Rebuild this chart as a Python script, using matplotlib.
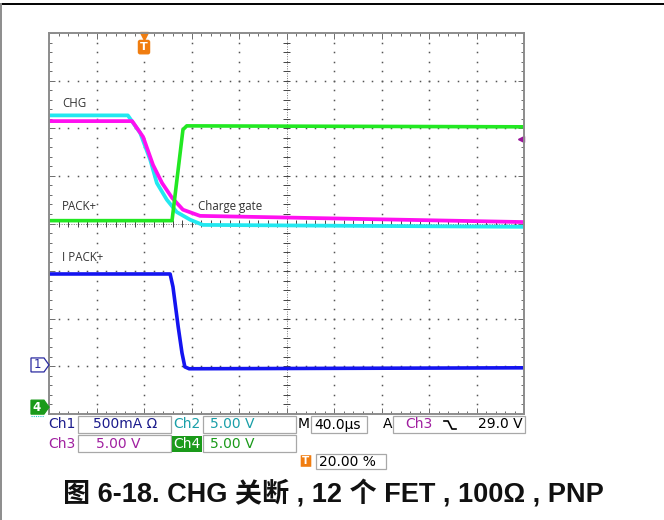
import numpy as np
import matplotlib
matplotlib.use('Agg')
import matplotlib.pyplot as plt
from matplotlib.patches import Rectangle, Polygon, FancyBboxPatch

# scope traces, time in divisions (0..10), level in divisions (0..8 from bottom)
ch1_t = [0, 2.55, 2.61, 2.72, 2.80, 2.86, 2.95, 10]
ch1_v = [2.94, 2.94, 2.67, 1.83, 1.28, 0.99, 0.95, 0.97]
ch2_t = [0, 1.66, 1.92, 2.13, 2.27, 2.48, 2.69, 2.97, 3.24, 10]
ch2_v = [6.27, 6.27, 5.90, 5.34, 4.85, 4.50, 4.24, 4.08, 3.97, 3.93]
ch3_t = [0, 1.75, 1.98, 2.19, 2.38, 2.59, 2.82, 3.18, 5.28, 10]
ch3_v = [6.15, 6.15, 5.82, 5.23, 4.85, 4.54, 4.29, 4.16, 4.12, 4.03]
ch4_t = [0, 2.59, 2.82, 2.90, 10]
ch4_v = [4.06, 4.06, 5.97, 6.05, 6.03]

trace_labels = ['CHG', 'PACK+', 'Charge gate', 'I PACK+']
label_x = [0.27, 0.27, 3.14, 0.27]
label_y = [6.51, 4.35, 4.35, 3.28]

trig_pos = 2.0      # 20.00 %
trig_level = 5.78   # ch3 trigger level marker
ch1_gnd = 1.03
ch4_gnd = 0.06

row1 = ['Ch1', '500mA Ω', 'Ch2', '5.00 V']
row2 = ['Ch3', '5.00 V', 'Ch4', '5.00 V']
timebase = '40.0µs'
trig_src = 'Ch3'
trig_val = '29.0 V'
trig_pct = '20.00 %'
caption = '图 6-18. CHG 关断 , 12 个 FET , 100Ω , PNP'

c_ch1 = '#1414f0'
c_ch2 = '#22e8f0'
c_ch3 = '#ff10f0'
c_ch4 = '#22e822'

W, H = 664, 520
fig = plt.figure(figsize=(W / 100, H / 100), dpi=100)
fig.patch.set_facecolor('white')

# scope screen
x0, x1, y0, y1 = 49, 524, 33, 414
ax = fig.add_axes([x0 / W, 1 - y1 / H, (x1 - x0) / W, (y1 - y0) / H])
ax.set_xlim(0, 10)
ax.set_ylim(0, 8)
for s in ax.spines.values():
    s.set_color('#8c8c8c')
    s.set_linewidth(1.4)
ax.set_xticks(np.arange(0, 11, 1))
ax.set_yticks(np.arange(0, 9, 1))
ax.set_xticks(np.arange(0, 10.01, 0.2), minor=True)
ax.set_yticks(np.arange(0, 8.01, 0.2), minor=True)
ax.tick_params(which='both', direction='in', top=True, right=True,
               labelbottom=False, labelleft=False, color='#555555', width=0.6)
ax.tick_params(which='major', length=4)
ax.tick_params(which='minor', length=2.2)

# dotted graticule
dots = np.arange(0.2, 10, 0.2)
yy = np.arange(0.2, 8, 0.2)
for i in range(1, 10):
    if i == 5:
        continue
    ax.plot([i] * len(yy), yy, ls='none', marker='s', ms=1.1, mec='none', mfc='#555555')
for j in range(1, 8):
    if j == 4:
        continue
    ax.plot(dots, [j] * len(dots), ls='none', marker='s', ms=1.1, mec='none', mfc='#555555')
# center cross with ticks
ax.plot([5, 5], [0, 8], color='#777777', lw=0.7, ls=(0, (1, 1.5)))
ax.plot([0, 10], [4, 4], color='#777777', lw=0.7, ls=(0, (1, 1.5)))
ax.hlines(yy, 5 - 0.07, 5 + 0.07, color='#444444', lw=0.7)
ax.vlines(dots, 4 - 0.07, 4 + 0.07, color='#444444', lw=0.7)

# traces
ax.plot(ch2_t, ch2_v, color=c_ch2, lw=2.7, solid_joinstyle='round')
ax.plot(ch3_t, ch3_v, color=c_ch3, lw=2.7, solid_joinstyle='round')
ax.plot(ch4_t, ch4_v, color=c_ch4, lw=2.6, solid_joinstyle='round')
ax.plot(ch1_t, ch1_v, color=c_ch1, lw=2.6, solid_joinstyle='round')

for t, lx, ly in zip(trace_labels, label_x, label_y):
    ax.text(lx, ly, t, fontsize=8.3, color='#333333', family='Open Sans',
            va='center', ha='left')

# trigger position marker at top
xt = ax.get_xaxis_transform()
ax.plot([trig_pos], [0.992], marker='v', ms=6, color='#f07d10', transform=xt, clip_on=False)
ax.text(trig_pos, 0.963, 'T', transform=xt, ha='center', va='center', color='white',
        fontsize=8, fontweight='bold', family='DejaVu Sans',
        bbox=dict(boxstyle='round,pad=0.15', fc='#f07d10', ec='#f07d10'))
# trigger level marker at right
ax.plot([9.93], [trig_level], marker='<', ms=5, color='#9a149a', clip_on=False)
ax.plot([9.93, 10], [trig_level, trig_level], color='#9a149a', lw=1.2)

# overlay in pixel coordinates
ov = fig.add_axes([0, 0, 1, 1], zorder=3)
ov.set_xlim(0, W)
ov.set_ylim(H, 0)
ov.axis('off')
ov.plot([0, W], [4, 4], color='black', lw=1.4)
ov.plot([1, 1], [4, H], color='#8c8c8c', lw=1.4)


def px_y(level):
    return y1 - level / 8 * (y1 - y0)


# channel ground markers
g1 = px_y(ch1_gnd)
ov.add_patch(Polygon([(31, g1 - 7), (44, g1 - 7), (49, g1), (44, g1 + 7), (31, g1 + 7)],
                     closed=True, fc='white', ec='#2a2aa0', lw=0.9))
ov.text(37, g1, '1', color='#2a2aa0', fontsize=8.5, ha='center', va='center')
g4 = px_y(ch4_gnd) - 4
ov.add_patch(Polygon([(31, g4 - 7), (44, g4 - 7), (49, g4), (44, g4 + 7), (31, g4 + 7)],
                     closed=True, fc='#1a9a1a', ec='#1a9a1a', lw=0.9))
ov.text(37, g4, '4', color='white', fontsize=8.5, ha='center', va='center', fontweight='bold')
ov.plot([31, 44], [g4 + 9, g4 + 9], color='#22c8c8', lw=0.8, ls=(0, (1, 1)))

# info boxes
box_ec = '#a8a8a8'
info_font = dict(family='DejaVu Sans', fontsize=10, va='center')
r1y, r2y = 424.5, 443.5
for (xa, xb, yc) in [(78, 171, r1y), (203, 296, r1y), (78, 171, r2y), (203, 296, r2y),
                     (311, 367, r1y), (393, 525, r1y)]:
    ov.add_patch(Rectangle((xa, yc - 8.5), xb - xa, 17, fc='none', ec=box_ec, lw=0.9))
ov.add_patch(Rectangle((172, r2y - 8), 30, 16, fc='#1a9a1a', ec='none'))

ov.text(48, r1y, row1[0], color='#1c1c8c', **info_font)
ov.text(93, r1y, row1[1], color='#1c1c8c', **info_font)
ov.text(173, r1y, row1[2], color='#1a9fa8', **info_font)
ov.text(210, r1y, row1[3], color='#1a9fa8', **info_font)
ov.text(48, r2y, row2[0], color='#a020a0', **info_font)
ov.text(96, r2y, row2[1], color='#a020a0', **info_font)
ov.text(173, r2y, row2[2], color='white', **info_font)
ov.text(210, r2y, row2[3], color='#1a9a1a', **info_font)
ov.text(298, r1y, 'M', color='black', **info_font)
ov.text(314, r1y, timebase, color='black', **info_font)
ov.text(383, r1y, 'A', color='black', **info_font)
ov.text(405, r1y, trig_src, color='#a020a0', **info_font)
ov.plot([444, 448, 452, 456], [421, 421, 429, 429], color='black', lw=1.2)
ov.text(523, r1y, trig_val, color='black', ha='right', **info_font)

ov.add_patch(FancyBboxPatch((301, 455.5), 10, 11, boxstyle='round,pad=0.3',
                            fc='#f07d10', ec='none'))
ov.text(306, 461.5, 'T', color='white', fontsize=7.5, fontweight='bold',
        ha='center', va='center')
ov.add_patch(Rectangle((316, 454), 70, 15, fc='none', ec=box_ec, lw=0.9))
ov.text(319, 461.5, trig_pct, color='black', **info_font)

ov.text(333, 494, caption, ha='center', va='center', fontsize=19.5, fontweight='bold',
        family=['Liberation Sans', 'Noto Sans CJK SC'], color='#111111')

fig.savefig('out.png', dpi=100)
